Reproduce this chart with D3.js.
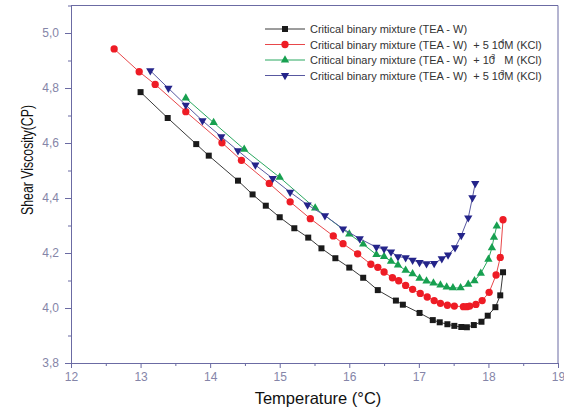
<!DOCTYPE html>
<html>
<head>
<meta charset="utf-8">
<script src="https://cdn.jsdelivr.net/npm/d3@7"></script>
<style>
  body { margin: 0; background: #fff; }
  .axis path, .axis line { stroke: #6b6ba3; }
  .axis text { fill: #8585a8; font: 12px Arial, "Liberation Sans", sans-serif; }
  .title { font-family: Arial, "Liberation Sans", sans-serif; fill: #111; }
  .legend text { font: 11px Arial, "Liberation Sans", sans-serif; fill: #333; }
</style>
</head>
<body>
<svg width="564" height="409"></svg>
<script>
/* data: temperature (C) and shear viscosity (cP) */
var tempPure = [13.0, 13.39, 13.8, 13.98, 14.4, 14.61, 14.8, 15.0, 15.21, 15.41, 15.6, 15.8, 16.0, 16.2, 16.41, 16.67, 16.77, 17.01, 17.2, 17.3, 17.41, 17.51, 17.61, 17.69, 17.79, 17.9, 17.99, 18.1, 18.17, 18.21];
var viscPure = [4.785, 4.691, 4.596, 4.554, 4.463, 4.413, 4.372, 4.33, 4.29, 4.256, 4.217, 4.181, 4.147, 4.11, 4.065, 4.027, 4.012, 3.982, 3.956, 3.948, 3.941, 3.935, 3.931, 3.93, 3.938, 3.95, 3.972, 4.003, 4.046, 4.13];

var tempKcl1 = [12.62, 12.98, 13.21, 13.65, 14.17, 14.45, 14.85, 15.15, 15.44, 15.77, 15.91, 16.12, 16.31, 16.41, 16.5, 16.62, 16.71, 16.81, 16.91, 17.02, 17.12, 17.22, 17.31, 17.41, 17.51, 17.64, 17.69, 17.73, 17.82, 17.91, 18.01, 18.11, 18.17, 18.21];
var viscKcl1 = [4.942, 4.859, 4.813, 4.714, 4.601, 4.537, 4.453, 4.386, 4.325, 4.262, 4.234, 4.197, 4.159, 4.148, 4.131, 4.11, 4.099, 4.082, 4.068, 4.053, 4.04, 4.027, 4.017, 4.01, 4.007, 4.005, 4.005, 4.007, 4.013, 4.027, 4.057, 4.12, 4.184, 4.321];

var tempKcl2 = [13.65, 14.05, 14.49, 15.0, 15.51, 16.0, 16.2, 16.39, 16.5, 16.6, 16.7, 16.81, 16.91, 17.01, 17.11, 17.21, 17.31, 17.4, 17.49, 17.6, 17.71, 17.8, 17.89, 18.0, 18.05, 18.08, 18.12];
var viscKcl2 = [4.763, 4.674, 4.577, 4.475, 4.363, 4.269, 4.232, 4.194, 4.187, 4.17, 4.156, 4.137, 4.124, 4.108, 4.098, 4.091, 4.083, 4.076, 4.073, 4.073, 4.086, 4.099, 4.126, 4.177, 4.219, 4.257, 4.298];

var tempKcl3 = [13.14, 13.4, 13.65, 13.89, 14.16, 14.4, 14.65, 14.9, 15.15, 15.4, 15.65, 15.91, 16.15, 16.39, 16.5, 16.6, 16.7, 16.81, 16.91, 17.01, 17.11, 17.22, 17.33, 17.42, 17.52, 17.61, 17.71, 17.77, 17.81];
var viscKcl3 = [4.863, 4.799, 4.738, 4.681, 4.623, 4.572, 4.52, 4.471, 4.421, 4.375, 4.336, 4.288, 4.252, 4.221, 4.215, 4.204, 4.187, 4.183, 4.174, 4.166, 4.161, 4.162, 4.179, 4.193, 4.219, 4.264, 4.328, 4.401, 4.453];

var xTicks = [12, 13, 14, 15, 16, 17, 18, 19];
var yTicks = [3.8, 4.0, 4.2, 4.4, 4.6, 4.8, 5.0];

var series = [
  {name: "pure", t: tempPure, v: viscPure, line: "#3a3a3a", fill: "#1a1a1a", shape: d3.symbolSquare, size: 36, rot: 0,
   label: ["Critical binary mixture (TEA - W)"]},
  {name: "kcl1", t: tempKcl1, v: viscKcl1, line: "#e8474a", fill: "#ee1c25", shape: d3.symbolCircle, size: 42, rot: 0,
   label: ["Critical binary mixture (TEA - W)  + 5 10", "-4", "M (KCl)"]},
  {name: "kcl2", t: tempKcl2, v: viscKcl2, line: "#2aa860", fill: "#17a050", shape: d3.symbolTriangle, size: 30, rot: 0,
   label: ["Critical binary mixture (TEA - W)  + 10", "-3", "   M (KCl)"]},
  {name: "kcl3", t: tempKcl3, v: viscKcl3, line: "#5858a0", fill: "#24248a", shape: d3.symbolTriangle, size: 30, rot: 180,
   label: ["Critical binary mixture (TEA - W)  + 5 10", "-3", "M (KCl)"]}
];

var svg = d3.select("svg"),
    margin = {top: 5.5, right: 6, bottom: 46, left: 71},
    width = svg.attr("width") - margin.left - margin.right,
    height = svg.attr("height") - margin.top - margin.bottom,
    g = svg.append("g").attr("transform", "translate(" + margin.left + "," + margin.top + ")");

var x = d3.scaleLinear().domain([12, 19]).range([0, width]),
    y = d3.scaleLinear().domain([3.8, 5.1]).range([height, 0]);

var fmt = function (d) { return d3.format(".1f")(d).replace(".", ","); };

// minor ticks first (shorter, no labels)
g.append("g")
    .attr("class", "axis")
    .attr("transform", "translate(0," + height + ")")
    .call(d3.axisBottom(x).tickValues(d3.range(12.5, 19, 1)).tickSize(3).tickFormat(""))
    .select(".domain").remove();
g.append("g")
    .attr("class", "axis")
    .call(d3.axisLeft(y).tickValues([3.9, 4.1, 4.3, 4.5, 4.7, 4.9, 5.1]).tickSize(3).tickFormat(""))
    .select(".domain").remove();

// major ticks
g.append("g")
    .attr("class", "axis")
    .attr("transform", "translate(0," + height + ")")
    .call(d3.axisBottom(x).tickValues(xTicks).tickSize(5).tickSizeOuter(0).tickPadding(4).tickFormat(d3.format("d")));
g.append("g")
    .attr("class", "axis")
    .call(d3.axisLeft(y).tickValues(yTicks).tickSize(6).tickSizeOuter(0).tickPadding(6).tickFormat(fmt));

// frame top and right
g.append("path")
    .attr("d", "M0,0H" + width + "V" + height)
    .attr("fill", "none")
    .attr("stroke", "#6b6ba3");

// axis titles
svg.append("text")
    .attr("class", "title")
    .attr("x", 318)
    .attr("y", 404)
    .attr("text-anchor", "middle")
    .style("font-size", "16.5px")
    .text("Temperature (\u00B0C)");

svg.append("text")
    .attr("class", "title")
    .attr("transform", "translate(33,160) rotate(-90)")
    .attr("text-anchor", "middle")
    .attr("textLength", 110)
    .attr("lengthAdjust", "spacingAndGlyphs")
    .style("font-size", "16px")
    .text("Shear Viscosity(CP)");

var line = d3.line()
    .x(function (d) { return x(d[0]); })
    .y(function (d) { return y(d[1]); });

series.forEach(function (s) {
    var pts = d3.zip(s.t, s.v);
    var grp = g.append("g").attr("class", s.name);
    grp.append("path")
        .attr("d", line(pts))
        .attr("fill", "none")
        .attr("stroke", s.line)
        .attr("stroke-width", 1);
    grp.selectAll("path.pt")
        .data(pts)
        .enter().append("path")
        .attr("class", "pt")
        .attr("d", d3.symbol().type(s.shape).size(s.size))
        .attr("transform", function (d) {
            return "translate(" + x(d[0]) + "," + y(d[1]) + ") rotate(" + s.rot + ")";
        })
        .attr("fill", s.fill);
});

// legend
var legend = svg.append("g").attr("class", "legend");
series.forEach(function (s, i) {
    var ly = 29 + i * 15.5;
    legend.append("line")
        .attr("x1", 265).attr("x2", 305)
        .attr("y1", ly).attr("y2", ly)
        .attr("stroke", s.line);
    legend.append("path")
        .attr("d", d3.symbol().type(s.shape).size(s.size))
        .attr("transform", "translate(285," + ly + ") rotate(" + s.rot + ")")
        .attr("fill", s.fill);
    var t = legend.append("text")
        .attr("x", 310)
        .attr("y", ly + 4)
        .attr("xml:space", "preserve");
    t.append("tspan").text(s.label[0]);
    if (s.label.length > 1) {
        t.append("tspan").attr("dx", -6).attr("dy", -5).style("font-size", "7px").text(s.label[1]);
        t.append("tspan").attr("dy", 5).text(s.label[2]);
    }
});
</script>
</body>
</html>
